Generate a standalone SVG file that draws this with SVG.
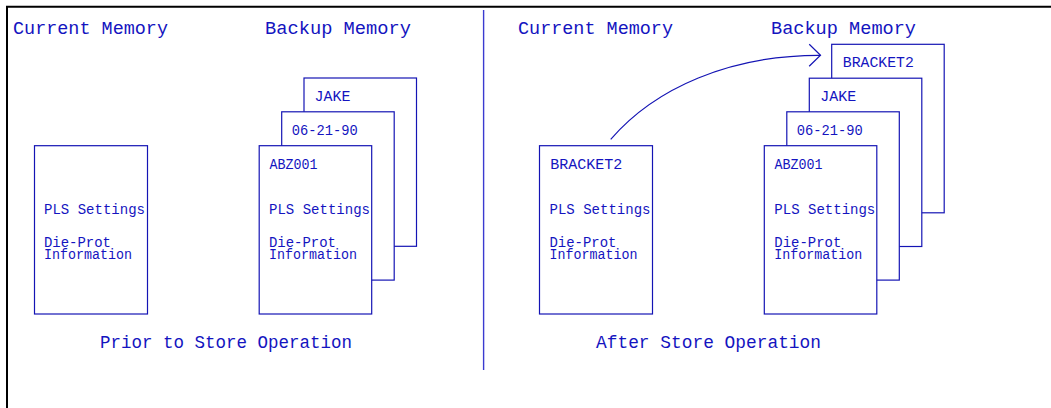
<svg xmlns="http://www.w3.org/2000/svg" width="1051" height="408" viewBox="0 0 1051 408">
  <style>
    .frame { fill: none; stroke: #000; stroke-width: 2; }
    .card { fill: #fff; stroke: #1414b4; stroke-width: 1.2; }
    .rule { fill: none; stroke: #3a3ad0; stroke-width: 1.4; }
    .wire { fill: none; stroke: #1414b4; stroke-width: 1.2; }
    text { font-family: "Liberation Mono", "DejaVu Sans Mono", monospace; fill: #1414c0; }
    .hd { font-size: 19px; }
    .lb { font-size: 15.5px; }
  </style>
  <defs>
    <marker id="openHead" markerUnits="userSpaceOnUse" viewBox="-13 -13 15 26" markerWidth="15" markerHeight="26" refX="0" refY="0" orient="auto" overflow="visible">
      <path d="M-11.3,-11 L0,0 L-11.3,11" fill="none" stroke="#1414b4" stroke-width="1.2"/>
    </marker>
  </defs>

  <rect width="1051" height="408" fill="#fff"/>

  <!-- sheet frame -->
  <path class="frame" d="M7,408 V6.8 H1051"/>

  <!-- panel divider -->
  <line class="rule" x1="483.6" y1="10" x2="483.6" y2="370"/>

  <!-- column headings and captions -->
  <g id="headings">
    <text class="hd" x="13" y="34" textLength="155" lengthAdjust="spacingAndGlyphs">Current Memory</text>
    <text class="hd" x="265" y="34" textLength="146" lengthAdjust="spacingAndGlyphs">Backup Memory</text>
    <text class="hd" x="518" y="34" textLength="155" lengthAdjust="spacingAndGlyphs">Current Memory</text>
    <text class="hd" x="771" y="34" textLength="145" lengthAdjust="spacingAndGlyphs">Backup Memory</text>
    <text class="hd" x="100" y="348" textLength="252" lengthAdjust="spacingAndGlyphs">Prior to Store Operation</text>
    <text class="hd" x="596" y="348" textLength="225" lengthAdjust="spacingAndGlyphs">After Store Operation</text>
  </g>

  <!-- left panel: current memory -->
  <g id="left-current">
    <rect class="card" x="34.5" y="145.7" width="113" height="168.3"/>
    <text class="lb" x="44" y="214" textLength="101" lengthAdjust="spacingAndGlyphs">PLS Settings</text>
    <text class="lb" x="44" y="247" textLength="67" lengthAdjust="spacingAndGlyphs">Die-Prot</text>
    <text class="lb" x="44" y="259" textLength="88" lengthAdjust="spacingAndGlyphs">Information</text>
  </g>

  <!-- left panel: backup stack (back to front) -->
  <g id="left-backup-3">
    <rect class="card" x="304" y="78" width="112.5" height="168.3"/>
    <text class="lb" x="314.5" y="101" textLength="36" lengthAdjust="spacingAndGlyphs">JAKE</text>
  </g>
  <g id="left-backup-2">
    <rect class="card" x="281.7" y="111.8" width="112.5" height="168.3"/>
    <text class="lb" x="291.8" y="135" textLength="66" lengthAdjust="spacingAndGlyphs">06-21-90</text>
  </g>
  <g id="left-backup-1">
    <rect class="card" x="259.2" y="145.7" width="112.5" height="168.3"/>
    <text class="lb" x="269.5" y="169" textLength="48" lengthAdjust="spacingAndGlyphs">ABZ001</text>
    <text class="lb" x="269" y="214" textLength="101" lengthAdjust="spacingAndGlyphs">PLS Settings</text>
    <text class="lb" x="269" y="247" textLength="67" lengthAdjust="spacingAndGlyphs">Die-Prot</text>
    <text class="lb" x="269" y="259" textLength="88" lengthAdjust="spacingAndGlyphs">Information</text>
  </g>

  <!-- right panel: current memory -->
  <g id="right-current">
    <rect class="card" x="539.5" y="145.7" width="113" height="168.3"/>
    <text class="lb" x="550.2" y="169" textLength="72" lengthAdjust="spacingAndGlyphs">BRACKET2</text>
    <text class="lb" x="549.5" y="214" textLength="101" lengthAdjust="spacingAndGlyphs">PLS Settings</text>
    <text class="lb" x="549.5" y="247" textLength="67" lengthAdjust="spacingAndGlyphs">Die-Prot</text>
    <text class="lb" x="549.5" y="259" textLength="88" lengthAdjust="spacingAndGlyphs">Information</text>
  </g>

  <!-- right panel: backup stack (back to front) -->
  <g id="right-backup-4">
    <rect class="card" x="831.7" y="44.3" width="112.5" height="168.5"/>
    <text class="lb" x="842.8" y="67" textLength="71" lengthAdjust="spacingAndGlyphs">BRACKET2</text>
  </g>
  <g id="right-backup-3">
    <rect class="card" x="809.3" y="78.2" width="112.5" height="168.3"/>
    <text class="lb" x="820.2" y="101" textLength="36" lengthAdjust="spacingAndGlyphs">JAKE</text>
  </g>
  <g id="right-backup-2">
    <rect class="card" x="786.8" y="111.8" width="112.5" height="168.3"/>
    <text class="lb" x="796.8" y="135" textLength="66" lengthAdjust="spacingAndGlyphs">06-21-90</text>
  </g>
  <g id="right-backup-1">
    <rect class="card" x="764.3" y="145.7" width="112.5" height="168.3"/>
    <text class="lb" x="774.5" y="169" textLength="48" lengthAdjust="spacingAndGlyphs">ABZ001</text>
    <text class="lb" x="774.3" y="214" textLength="101" lengthAdjust="spacingAndGlyphs">PLS Settings</text>
    <text class="lb" x="774.3" y="247" textLength="67" lengthAdjust="spacingAndGlyphs">Die-Prot</text>
    <text class="lb" x="774.3" y="259" textLength="88" lengthAdjust="spacingAndGlyphs">Information</text>
  </g>

  <!-- store transfer -->
  <g id="connectors">
    <path class="wire" d="M610.7,139.3 C655,88 730,55 820.5,55.3" marker-end="url(#openHead)"/>
  </g>
</svg>
